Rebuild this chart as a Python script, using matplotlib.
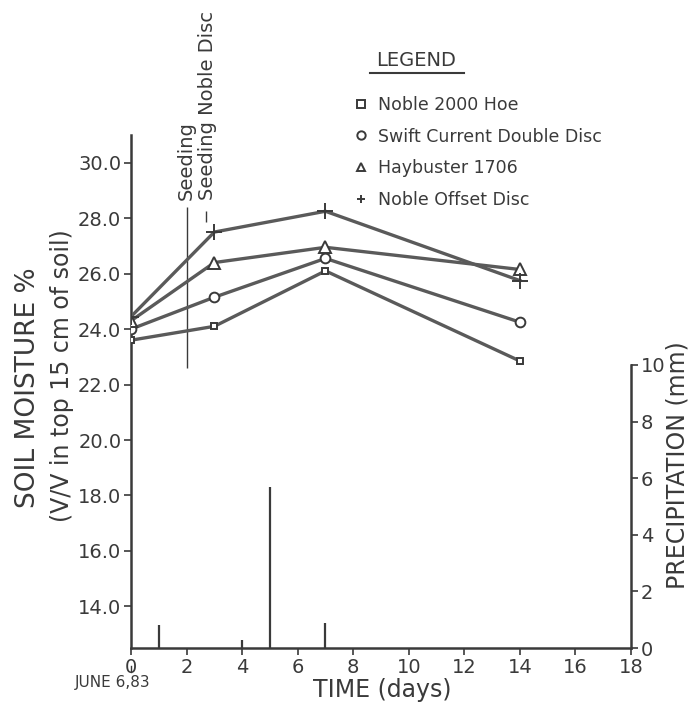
"""
土壤水分 + 降水 复刻图
Output: out.png
"""
import numpy as np
import matplotlib
matplotlib.use("Agg")
import matplotlib.pyplot as plt
from matplotlib.lines import Line2D

plt.rcParams["font.family"] = ["DejaVu Sans"]

# ---- data ----
days = [0, 3, 7, 14]
hoe = [23.6, 24.1, 26.1, 22.85]          # Noble 2000 Hoe
swift = [24.0, 25.15, 26.55, 24.25]      # Swift Current Double Disc
hay = [24.3, 26.4, 26.95, 26.15]         # Haybuster 1706
offset = [24.45, 27.5, 28.25, 25.75]     # Noble Offset Disc
series_labels = ["Noble 2000 Hoe", "Swift Current Double Disc",
                 "Haybuster 1706", "Noble Offset Disc"]

rain_days = [1, 4, 5, 7]
rain_mm = [0.8, 0.3, 5.7, 0.9]

seed_day = 2
seed_range = (22.6, 28.4)

x_ticks = [0, 2, 4, 6, 8, 10, 12, 14, 16, 18]
y_ticks = [14.0, 16.0, 18.0, 20.0, 22.0, 24.0, 26.0, 28.0, 30.0]
p_ticks = [0, 2, 4, 6, 8, 10]

INK = "#3a3a3a"
W, H = 692, 712


def fx(px):
    return px / W


def fy(py):
    return 1 - py / H


fig = plt.figure(figsize=(W / 100, H / 100), dpi=100)
ax = fig.add_axes([fx(131), fy(648), 500 / W, 513 / H])
ax.set_xlim(0, 18)
ax.set_ylim(12.5, 31.0)

markers = ["s", "o", "^", "+"]
msizes = [5, 7, 8, 12]
for ys, m, ms, lab in zip([hoe, swift, hay, offset], markers, msizes, series_labels):
    ax.plot(days, ys, color="#5a5a5a", lw=2.4, marker=m, ms=ms,
            mfc="white", mec=INK, mew=1.4, label=lab, zorder=3)

# seeding line + pointer to noble offset disc
ax.vlines(seed_day, *seed_range, color=INK, lw=1.0)
ax.vlines(2.7, 27.85, 28.25, color=INK, lw=1.0)
ax.text(seed_day, 28.65, "Seeding", rotation=90, ha="center", va="bottom",
        fontsize=14, color=INK)
ax.text(2.75, 28.65, "Seeding Noble Disc", rotation=90, ha="center", va="bottom",
        fontsize=14, color=INK, clip_on=False)

# precipitation on twin axis
ax2 = ax.twinx()
ax2.set_ylim(0, 513 / 28.3)
ax2.vlines(rain_days, 0, rain_mm, color=INK, lw=1.6)
ax2.set_yticks(p_ticks)
ax2.spines["right"].set_bounds(0, 10)
ax2.spines["right"].set_linewidth(1.8)
ax2.spines["right"].set_color(INK)
for s in ["top", "left", "bottom"]:
    ax2.spines[s].set_visible(False)
ax2.tick_params(axis="y", direction="out", length=5, width=1.2, colors=INK,
                labelsize=14, pad=2)
fig.text(fx(677), fy(465), "PRECIPITATION (mm)", rotation=90, fontsize=17,
         color=INK, ha="center", va="center")

# axes styling
ax.set_xticks(x_ticks)
ax.set_yticks(y_ticks)
ax.set_yticklabels([f"{v:.1f}" for v in y_ticks])
ax.tick_params(axis="both", direction="out", length=5, width=1.2, colors=INK,
               labelsize=14, pad=2)
for s in ["top", "right"]:
    ax.spines[s].set_visible(False)
for s in ["left", "bottom"]:
    ax.spines[s].set_linewidth(1.8)
    ax.spines[s].set_color(INK)

fig.text(fx(382), fy(690), "TIME (days)", fontsize=17, color=INK,
         ha="center", va="center")
fig.text(fx(28), fy(388), "SOIL MOISTURE %", rotation=90, fontsize=19,
         color=INK, ha="center", va="center")
fig.text(fx(62), fy(376), "(V/V in top 15 cm of soil)", rotation=90,
         fontsize=17, color=INK, ha="center", va="center")
fig.text(fx(113), fy(683), "JUNE 6,83", fontsize=11, color=INK,
         ha="center", va="center")
fig.add_artist(Line2D([fx(131), fx(131)], [fy(672), fy(666)],
                      color=INK, lw=1.0))

# legend
fig.text(fx(416), fy(60), "LEGEND", fontsize=14, color=INK,
         ha="center", va="center")
fig.add_artist(Line2D([fx(370), fx(464)], [fy(73), fy(73)],
                      color=INK, lw=1.5))
leg = ax.legend(loc="upper left", bbox_to_anchor=(fx(340), fy(80)),
                bbox_transform=fig.transFigure, frameon=False,
                handlelength=0.6, handletextpad=0.7, labelspacing=0.8,
                fontsize=12.5, labelcolor=INK)
for h in leg.legend_handles:
    h.set_linestyle("none")
    h.set_markersize(6)

fig.savefig("out.png", dpi=100)
